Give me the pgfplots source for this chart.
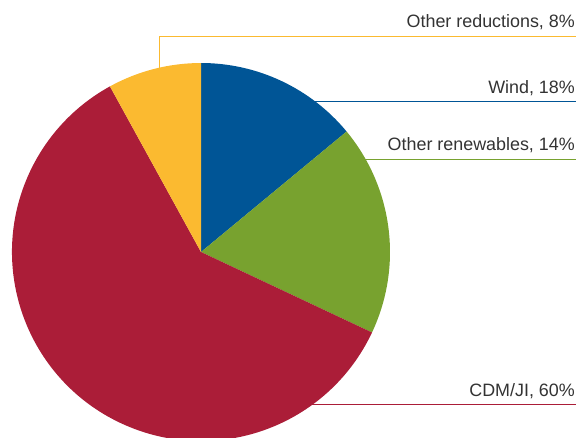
\documentclass[border=0pt]{standalone}
\usepackage{pgfplots}
\usepackage{pgfplotstable}
\pgfplotsset{compat=1.18}
\usepackage{fontspec}
\setmainfont{Liberation Sans}
\definecolor{pieblue}{HTML}{005596}
\definecolor{piegreen}{HTML}{78A22F}
\definecolor{piered}{HTML}{AB1D38}
\definecolor{pieyellow}{HTML}{FBBA30}
\definecolor{txt}{HTML}{333333}
\pgfplotstableread{
name value
Wind 14
Renewables 18
CDMJI 60
Other 8
}\piedata
\pgfplotstablegetelem{0}{value}\of\piedata \let\vA\pgfplotsretval
\pgfplotstablegetelem{1}{value}\of\piedata \let\vB\pgfplotsretval
\pgfplotstablegetelem{2}{value}\of\piedata \let\vC\pgfplotsretval
\pgfplotstablegetelem{3}{value}\of\piedata \let\vD\pgfplotsretval
\pgfmathsetmacro\aA{90-3.6*\vA}
\pgfmathsetmacro\aB{\aA-3.6*\vB}
\pgfmathsetmacro\aC{\aB-3.6*\vC}
\pgfmathsetmacro\aD{\aC-3.6*\vD}
\begin{document}%
\begin{tikzpicture}
\begin{axis}[scale only axis,width=576pt,height=437pt,xmin=0,xmax=576,ymin=0,ymax=437,
  axis lines=none, ticks=none, clip=true]
% leader lines
\draw[pieyellow,line width=1.1pt] (axis cs:159.5,300) -- (axis cs:159.5,400.5) -- (axis cs:577,400.5);
\draw[pieblue,line width=1.1pt] (axis cs:250,335.5) -- (axis cs:577,335.5);
\draw[piegreen,line width=1.1pt] (axis cs:250,277.5) -- (axis cs:577,277.5);
\draw[piered,line width=1.1pt] (axis cs:250,32.5) -- (axis cs:577,32.5);
% slices
\fill[pieblue] (axis cs:201,185) -- (axis cs:{201+189*cos(90)},{185+189*sin(90)}) arc[start angle=90,end angle=\aA,radius=189pt] -- cycle;
\fill[piegreen] (axis cs:201,185) -- (axis cs:{201+189*cos(\aA)},{185+189*sin(\aA)}) arc[start angle=\aA,end angle=\aB,radius=189pt] -- cycle;
\fill[piered] (axis cs:201,185) -- (axis cs:{201+189*cos(\aB)},{185+189*sin(\aB)}) arc[start angle=\aB,end angle=\aC,radius=189pt] -- cycle;
\fill[pieyellow] (axis cs:201,185) -- (axis cs:{201+189*cos(\aC)},{185+189*sin(\aC)}) arc[start angle=\aC,end angle=\aD,radius=189pt] -- cycle;
% labels
\node[anchor=base east,inner sep=0pt,font=\fontsize{17.9}{20}\selectfont,text=txt] at (axis cs:575,409.5) {Other reductions, 8\%};
\node[anchor=base east,inner sep=0pt,font=\fontsize{17.9}{20}\selectfont,text=txt] at (axis cs:575,343) {Wind, 18\%};
\node[anchor=base east,inner sep=0pt,font=\fontsize{17.9}{20}\selectfont,text=txt] at (axis cs:575,286) {Other renewables, 14\%};
\node[anchor=base east,inner sep=0pt,font=\fontsize{17.9}{20}\selectfont,text=txt] at (axis cs:575,40.5) {CDM/JI, 60\%};
\end{axis}
\pgfresetboundingbox
\path[use as bounding box] (current axis.south west) rectangle (current axis.north east);
\end{tikzpicture}%
\end{document}
